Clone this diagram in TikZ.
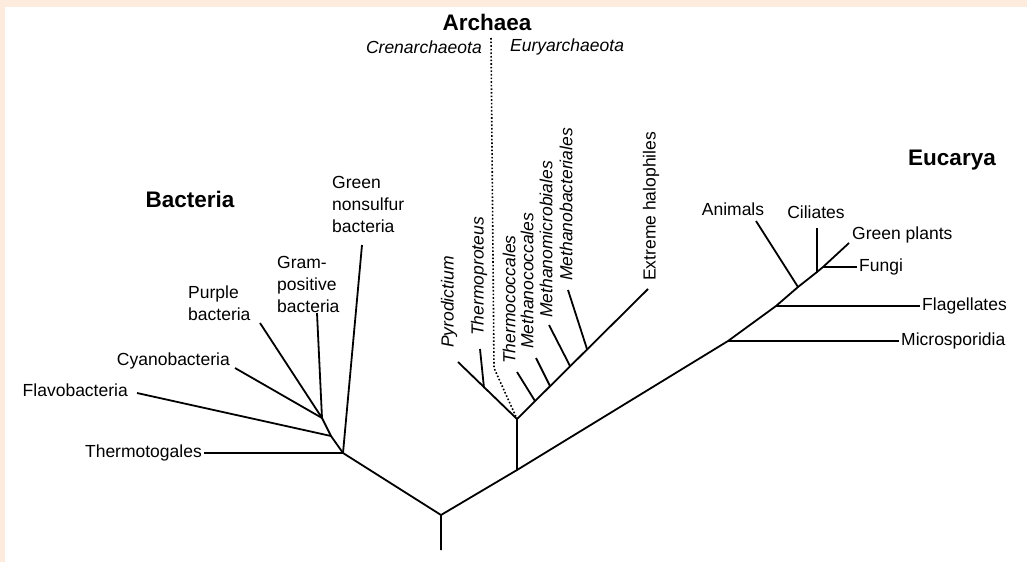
\documentclass[tikz,border=0pt]{standalone}
\usepackage{fontspec}
\setmainfont{Liberation Sans}
\definecolor{peach}{RGB}{253,235,221}
\tikzset{
  limb/.style={line width=1.8pt, line join=round},
  taxonlabel/.style={font=\fontsize{17.5}{22}\selectfont, inner sep=2pt, align=left},
  cladelabel/.style={font=\fontsize{17.5}{22}\selectfont\itshape, inner sep=2pt},
  domainlabel/.style={font=\fontsize{22.5}{26}\selectfont\bfseries, inner sep=0pt},
}
\begin{document}
\begin{tikzpicture}[x=1pt, y=-1pt]
  \fill[peach] (0,0) rectangle (1027,562);
  \fill[white] (5,7) rectangle (1027,562);
  \useasboundingbox (0,0) rectangle (1027,562);

  \node[domainlabel] (bac) at (190,199) {Bacteria};
  \node[domainlabel] (arc) at (487,22) {Archaea};
  \node[domainlabel] (euc) at (952,160) {Eucarya};
  \node[cladelabel, anchor=east] (cren) at (484,47) {Crenarchaeota};
  \node[cladelabel, anchor=west] (eury) at (508,47) {Euryarchaeota};

  % tree junctions
  \coordinate (base) at (441,550);
  \coordinate (root) at (441,515);
  \coordinate (b0) at (343,453);
  \coordinate (b1) at (331,436);
  \coordinate (b2) at (322,418);
  \coordinate (a0) at (517,470);
  \coordinate (a1) at (517,419);
  \coordinate (c1) at (484,388);
  \coordinate (eu1) at (535,401);
  \coordinate (eu2) at (550,386);
  \coordinate (eu3) at (570,366);
  \coordinate (eu4) at (587,349);
  \coordinate (e1) at (728,341);
  \coordinate (e2) at (776,306);
  \coordinate (e3) at (798,287);
  \coordinate (e4) at (817,272);
  \coordinate (e5) at (823,267);

  % free ends
  \coordinate (tGns) at (362,245);
  \coordinate (tGram) at (317,313);
  \coordinate (tPurple) at (260,323);
  \coordinate (tCyano) at (235,368);
  \coordinate (tFlavo) at (137,393);
  \coordinate (tPyro) at (458,362);
  \coordinate (tTprot) at (480,349);
  \coordinate (tTcocc) at (517,372);
  \coordinate (tMcocc) at (536,358);
  \coordinate (tMmicro) at (549,325);
  \coordinate (tMbact) at (568,290);
  \coordinate (tHalo) at (648,289);
  \coordinate (tAnim) at (756,221);
  \coordinate (tCil) at (817,228);
  \coordinate (tPlant) at (849,243);
  \coordinate (dTop) at (491,38);
  \coordinate (dMid) at (494,368);

  % labels
  \node[taxonlabel, anchor=north west] (gns) at (330,174) {Green\\nonsulfur\\bacteria};
  \node[taxonlabel, anchor=north west] (gram) at (275,254) {Gram-\\positive\\bacteria};
  \node[taxonlabel, anchor=north west] (purple) at (186,284) {Purple\\bacteria};
  \node[taxonlabel, anchor=east] (cyano) at (232,361) {Cyanobacteria};
  \node[taxonlabel, anchor=east] (flavo) at (130,390) {Flavobacteria};
  \node[taxonlabel, anchor=east] (thermo) at (204,453) {Thermotogales};
  \node[cladelabel, rotate=90, anchor=west] (pyro) at (449,350) {Pyrodictium};
  \node[cladelabel, rotate=90, anchor=west] (tprot) at (479,338) {Thermoproteus};
  \node[cladelabel, rotate=90, anchor=west] (tcocc) at (509,366) {Thermococcales};
  \node[cladelabel, rotate=90, anchor=west] (mcocc) at (527,351) {Methanococcales};
  \node[cladelabel, rotate=90, anchor=west] (mmicro) at (546,320) {Methanomicrobiales};
  \node[cladelabel, rotate=90, anchor=west] (mbact) at (566,283) {Methanobacteriales};
  \node[taxonlabel, rotate=90, anchor=west] (halo) at (651,283) {Extreme halophiles};
  \node[taxonlabel] (anim) at (733,209) {Animals};
  \node[taxonlabel] (cil) at (816,212) {Ciliates};
  \node[taxonlabel, anchor=base west] (plant) at (850,239) {Green plants};
  \node[taxonlabel, anchor=west] (fungi) at (857,267) {Fungi};
  \node[taxonlabel, anchor=west] (flag) at (920,306) {Flagellates};
  \node[taxonlabel, anchor=west] (micro) at (899,341) {Microsporidia};

  % branches
  \draw[limb] (base) -- (root) -- (a0) -- (e1) -- (e2) -- (e3) -- (e4) -- (e5) -- (tPlant);
  \draw[limb] (root) -- (b0) -- (b1) -- (b2);
  \draw[limb] (thermo) -- (b0) -- (tGns);
  \draw[limb] (tFlavo) -- (b1);
  \draw[limb] (tCyano) -- (b2);
  \draw[limb] (tPurple) -- (b2) -- (tGram);
  \draw[limb] (a0) -- (a1) -- (tPyro);
  \draw[limb] (c1) -- (tTprot);
  \draw[limb] (a1) -- (tHalo);
  \draw[limb] (eu1) -- (tTcocc);
  \draw[limb] (eu2) -- (tMcocc);
  \draw[limb] (eu3) -- (tMmicro);
  \draw[limb] (eu4) -- (tMbact);
  \draw[line width=1.6pt, dash pattern=on 1.6pt off 2pt] (dTop) -- (dMid) -- (a1);
  \draw[limb] (e3) -- (tAnim);
  \draw[limb] (e4) -- (tCil);
  \draw[limb] (e5) -- (fungi);
  \draw[limb] (e2) -- (flag);
  \draw[limb] (e1) -- (micro);
\end{tikzpicture}
\end{document}
